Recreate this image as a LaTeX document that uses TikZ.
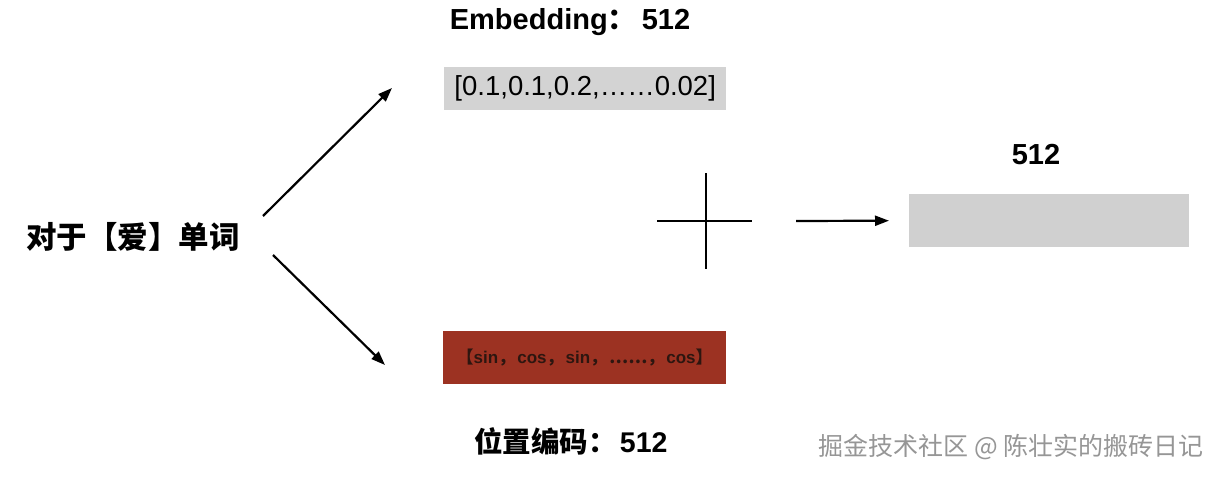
\documentclass[tikz,border=0pt]{standalone}
\usepackage{fontspec}
\setmainfont{Liberation Sans}
\newfontfamily\cjk{Noto Sans CJK SC}
\usetikzlibrary{arrows.meta}
\definecolor{boxgray}{RGB}{211,211,211}
\definecolor{outgray}{RGB}{208,208,208}
\definecolor{posred}{RGB}{156,50,34}
\definecolor{postext}{RGB}{45,22,16}
\definecolor{wmgray}{RGB}{150,150,150}
\tikzset{
  arrowline/.style={line width=2.2pt,-{Triangle[length=14pt,width=10pt]}},
  plusline/.style={line width=2.4pt},
  fillbox/.style={draw=none,inner sep=0pt,anchor=north west},
  bigbold/.style={font=\fontsize{29}{32}\selectfont\bfseries},
}
\begin{document}
\begin{tikzpicture}[x=1pt,y=-1pt]
\useasboundingbox (0,0) rectangle (1221,479);
\fill[white] (0,0) rectangle (1221,479);
% left word
\node (word) at (133,237) {\fontsize{30.5}{34}\selectfont\cjk\bfseries 对于【爱】单词};
% embedding
\node[bigbold] (embtitle) at (570,22) {Embedding{\cjk：}\hspace{5pt}512};
\node[fillbox,fill=boxgray,minimum width=282pt,minimum height=43pt] (embbox) at (444,67) {};
\node[font=\fontsize{27.5}{30}\selectfont] (embtext) at (embbox.center) {[0.1,0.1,0.2,……0.02]};
% positional encoding
\node[fillbox,fill=posred,minimum width=283pt,minimum height=53pt] (posbox) at (443,331) {};
\node[font=\fontsize{17}{19}\selectfont\bfseries,text=postext] (postext) at (posbox.center) {{\cjk 【}sin{\cjk ，}\hspace{2pt}cos{\cjk ，}\hspace{2pt}sin{\cjk ，}\hspace{2pt}{\cjk ……，}\hspace{2pt}cos{\cjk 】}};
\node[font=\fontsize{28.5}{32}\selectfont\bfseries] (postitle) at (571,441) {{\cjk 位置编码：}\hspace{3pt}512};
% arrows from word
\coordinate (upstart) at (263,216);
\coordinate (upend) at (392,88);
\coordinate (downstart) at (273,255);
\coordinate (downend) at (385,365);
\draw[arrowline] (upstart) -- (upend);
\draw[arrowline] (downstart) -- (downend);
% plus sign
\coordinate (plusL) at (657,221);
\coordinate (plusR) at (752,221);
\coordinate (plusT) at (706,173);
\coordinate (plusB) at (706,269);
\draw[plusline] (plusL) -- (plusR);
\draw[plusline] (plusT) -- (plusB);
% result
\node[fillbox,fill=outgray,minimum width=280pt,minimum height=53pt] (outbox) at (909,194) {};
\node[bigbold] (outlabel) at (1036,155) {512};
\coordinate (rastart) at (796,221);
\draw[arrowline] (rastart) -- ([xshift=-20pt]outbox.west);
% watermark
\node[font=\fontsize{25}{28}\selectfont\cjk,text=wmgray] (wm) at (1011,447) {掘金技术社区 @ 陈壮实的搬砖日记};
\end{tikzpicture}
\end{document}
